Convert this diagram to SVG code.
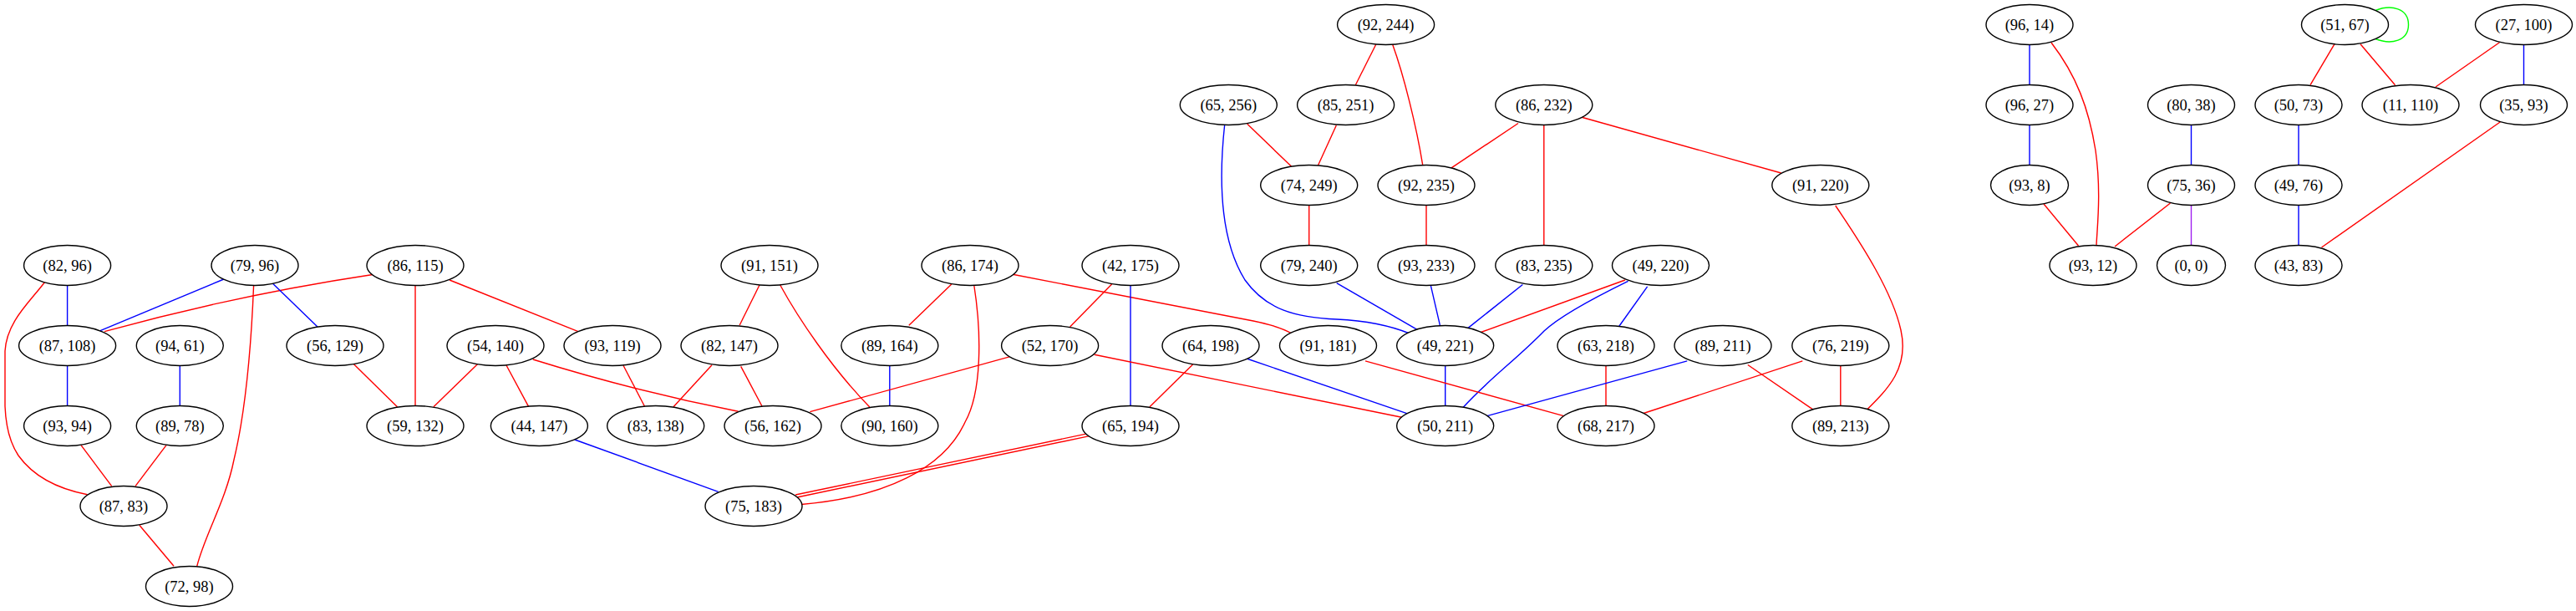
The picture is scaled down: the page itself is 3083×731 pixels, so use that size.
<svg xmlns="http://www.w3.org/2000/svg" width="3083" height="731" viewBox="0 0 3083 731">
<style>
.n ellipse{fill:#fff;stroke:#000;stroke-width:1.4}
.n text{font-family:"Liberation Serif","Times New Roman",serif;font-size:18.5px;text-anchor:middle;fill:#000}
.e path{fill:none;stroke-width:1.4}
.r{stroke:#ff0000}.b{stroke:#0000ff}.g{stroke:#00ff00}.p{stroke:#a020f0}
</style>
<rect width="3083" height="731" fill="#fff"/>
<g id="edges" class="e">
<path class="b" d="M80.6,341.5 L80.6,389.5"/>
<path class="r" d="M53.6,337.5 C35,362 8,385 6,420 L6,486 C7,512 12,530 22,545 C40,570 70,585 104.6,591.7"/>
<path class="b" d="M267.9,334 L120,395.7"/>
<path class="r" d="M446,328.5 Q283,353 125,396.7"/>
<path class="b" d="M326.5,339.3 L380,391"/>
<path class="r" d="M303.6,341.5 C300,430 292,500 280,550 C270,600 245,640 235.7,677.5"/>
<path class="r" d="M497,341.5 L497,485.5"/>
<path class="r" d="M538,335 L692,396.7"/>
<path class="b" d="M80.6,437.5 L80.6,485.5"/>
<path class="b" d="M215.3,437.5 L215.3,485.5"/>
<path class="r" d="M423.5,435.7 L475.5,486.7"/>
<path class="r" d="M571.4,435.7 L518.9,486.7"/>
<path class="r" d="M606,437 L632.7,486.7"/>
<path class="r" d="M637.8,430 Q760,468 883.7,492.3"/>
<path class="r" d="M746,437.3 L771.4,486"/>
<path class="r" d="M199,532.7 L162,581.7"/>
<path class="r" d="M97,532.7 L133.7,581.7"/>
<path class="r" d="M166.8,628.3 L208,677.3"/>
<path class="b" d="M687.8,526 L859.7,588.3"/>
<path class="r" d="M909,341 L885.2,389"/>
<path class="r" d="M933.7,341 C955,380 995,440 1040.8,487"/>
<path class="r" d="M852,436.7 L806,486.7"/>
<path class="r" d="M886.7,438.3 L912,486"/>
<path class="r" d="M1138.8,340 L1087.8,389.3"/>
<path class="r" d="M1165.8,341.5 C1175,400 1175,470 1155,505 C1130,560 1060,595 959,603.5"/>
<path class="r" d="M1212,328.3 L1500,384 Q1530,390 1546,399"/>
<path class="r" d="M1330.6,340 L1280.6,391"/>
<path class="b" d="M1353,341.5 L1353,485.5"/>
<path class="b" d="M1064.8,437.5 L1064.8,485.5"/>
<path class="r" d="M1209,426.7 L969.4,492.7"/>
<path class="r" d="M1309.7,424.3 L1680,499.8"/>
<path class="r" d="M1427.6,436 L1376,486.7"/>
<path class="b" d="M1492,429 L1686.7,495.6"/>
<path class="r" d="M1303.3,518.4 L952,592"/>
<path class="r" d="M1303.9,521.6 L952.6,595.2"/>
<path class="b" d="M1465.7,149 C1458,220 1462,290 1490,335 C1515,370 1550,380 1600,382 C1640,384 1665,390 1687,399"/>
<path class="r" d="M1492.7,148.3 L1545.7,199.3"/>
<path class="r" d="M1599.3,150 L1577.3,198.3"/>
<path class="r" d="M1646.7,53.3 L1622.3,101.7"/>
<path class="r" d="M1666.7,53.3 C1680,90 1695,150 1702.7,197.3"/>
<path class="r" d="M1817,147.5 L1736.3,201.4"/>
<path class="r" d="M1847.8,149.5 L1847.8,293.5"/>
<path class="r" d="M1893.9,140.5 L2131.7,207"/>
<path class="r" d="M1566.7,245.5 L1566.7,293.5"/>
<path class="r" d="M1707,245.5 L1707,293.5"/>
<path class="b" d="M1599.7,338.6 L1697,394.8"/>
<path class="b" d="M1712.3,341.3 L1723.5,389.7"/>
<path class="b" d="M1822.3,340.5 L1755.8,393.4"/>
<path class="r" d="M1945,335 L1771,398"/>
<path class="b" d="M1948.6,336.3 C1900,360 1865,380 1848,396 C1815,430 1780,455 1750.6,488"/>
<path class="b" d="M1971.6,342.9 L1937.3,391"/>
<path class="b" d="M1729.7,437.5 L1729.7,485.5"/>
<path class="r" d="M1634,431.9 L1876,498.8"/>
<path class="r" d="M1922,437.5 L1922,485.5"/>
<path class="b" d="M2019.2,431.9 L1778.8,497.9"/>
<path class="r" d="M2091.8,436.5 L2172.6,491.8"/>
<path class="r" d="M2157.3,431.9 L1965.5,495"/>
<path class="r" d="M2202.8,437.5 L2202.8,485.5"/>
<path class="r" d="M2196.7,246 C2230,295 2265,350 2275,395 C2285,440 2260,465 2232.5,492"/>
<path class="b" d="M2429,53.5 L2429,101.5"/>
<path class="r" d="M2455,51 C2485,90 2500,130 2508,180 C2515,230 2510,270 2509,293.5"/>
<path class="b" d="M2429,149.5 L2429,197.5"/>
<path class="r" d="M2446,244 L2487.5,294"/>
<path class="b" d="M2622.5,149.5 L2622.5,197.5"/>
<path class="r" d="M2597.5,243 L2531,295"/>
<path class="p" d="M2622.5,245.5 L2622.5,293.5"/>
<path class="r" d="M2794,52.7 L2765,101.7"/>
<path class="r" d="M2825,52.7 L2866.5,101.7"/>
<path class="r" d="M2991.5,50.7 L2915,104"/>
<path class="b" d="M3020.5,53.5 L3020.5,101.5"/>
<path class="b" d="M2751,149.5 L2751,197.5"/>
<path class="b" d="M2751,245.5 L2751,293.5"/>
<path class="r" d="M2992.5,145.7 L2778.5,296"/>
<path class="g" d="M2843,12.5 C2862,5 2882.5,10 2882.5,29.5 C2882.5,49 2862,54 2843,46.5"/>
</g>
<g id="n_82_96" class="n"><ellipse cx="80.6" cy="317.5" rx="52" ry="24"/><text x="80.6" y="323.5">(82, 96)</text></g>
<g id="n_79_96" class="n"><ellipse cx="305" cy="317.5" rx="52" ry="24"/><text x="305" y="323.5">(79, 96)</text></g>
<g id="n_86_115" class="n"><ellipse cx="497" cy="317.5" rx="58" ry="24"/><text x="497" y="323.5">(86, 115)</text></g>
<g id="n_91_151" class="n"><ellipse cx="921" cy="317.5" rx="58" ry="24"/><text x="921" y="323.5">(91, 151)</text></g>
<g id="n_86_174" class="n"><ellipse cx="1161" cy="317.5" rx="58" ry="24"/><text x="1161" y="323.5">(86, 174)</text></g>
<g id="n_42_175" class="n"><ellipse cx="1353" cy="317.5" rx="58" ry="24"/><text x="1353" y="323.5">(42, 175)</text></g>
<g id="n_79_240" class="n"><ellipse cx="1566.7" cy="317.5" rx="58" ry="24"/><text x="1566.7" y="323.5">(79, 240)</text></g>
<g id="n_93_233" class="n"><ellipse cx="1707" cy="317.5" rx="58" ry="24"/><text x="1707" y="323.5">(93, 233)</text></g>
<g id="n_83_235" class="n"><ellipse cx="1847.8" cy="317.5" rx="58" ry="24"/><text x="1847.8" y="323.5">(83, 235)</text></g>
<g id="n_49_220" class="n"><ellipse cx="1987.5" cy="317.5" rx="58" ry="24"/><text x="1987.5" y="323.5">(49, 220)</text></g>
<g id="n_93_12" class="n"><ellipse cx="2505" cy="317.5" rx="52" ry="24"/><text x="2505" y="323.5">(93, 12)</text></g>
<g id="n_0_0" class="n"><ellipse cx="2622.5" cy="317.5" rx="41" ry="24"/><text x="2622.5" y="323.5">(0, 0)</text></g>
<g id="n_43_83" class="n"><ellipse cx="2751" cy="317.5" rx="52" ry="24"/><text x="2751" y="323.5">(43, 83)</text></g>
<g id="n_87_108" class="n"><ellipse cx="80.6" cy="413.5" rx="58" ry="24"/><text x="80.6" y="419.5">(87, 108)</text></g>
<g id="n_94_61" class="n"><ellipse cx="215.3" cy="413.5" rx="52" ry="24"/><text x="215.3" y="419.5">(94, 61)</text></g>
<g id="n_56_129" class="n"><ellipse cx="401" cy="413.5" rx="58" ry="24"/><text x="401" y="419.5">(56, 129)</text></g>
<g id="n_54_140" class="n"><ellipse cx="593" cy="413.5" rx="58" ry="24"/><text x="593" y="419.5">(54, 140)</text></g>
<g id="n_93_119" class="n"><ellipse cx="733" cy="413.5" rx="58" ry="24"/><text x="733" y="419.5">(93, 119)</text></g>
<g id="n_82_147" class="n"><ellipse cx="873" cy="413.5" rx="58" ry="24"/><text x="873" y="419.5">(82, 147)</text></g>
<g id="n_89_164" class="n"><ellipse cx="1064.8" cy="413.5" rx="58" ry="24"/><text x="1064.8" y="419.5">(89, 164)</text></g>
<g id="n_52_170" class="n"><ellipse cx="1256.6" cy="413.5" rx="58" ry="24"/><text x="1256.6" y="419.5">(52, 170)</text></g>
<g id="n_64_198" class="n"><ellipse cx="1449" cy="413.5" rx="58" ry="24"/><text x="1449" y="419.5">(64, 198)</text></g>
<g id="n_91_181" class="n"><ellipse cx="1589.5" cy="413.5" rx="58" ry="24"/><text x="1589.5" y="419.5">(91, 181)</text></g>
<g id="n_49_221" class="n"><ellipse cx="1729.7" cy="413.5" rx="58" ry="24"/><text x="1729.7" y="419.5">(49, 221)</text></g>
<g id="n_63_218" class="n"><ellipse cx="1922" cy="413.5" rx="58" ry="24"/><text x="1922" y="419.5">(63, 218)</text></g>
<g id="n_89_211" class="n"><ellipse cx="2062" cy="413.5" rx="58" ry="24"/><text x="2062" y="419.5">(89, 211)</text></g>
<g id="n_76_219" class="n"><ellipse cx="2202.8" cy="413.5" rx="58" ry="24"/><text x="2202.8" y="419.5">(76, 219)</text></g>
<g id="n_93_94" class="n"><ellipse cx="80.6" cy="509.5" rx="52" ry="24"/><text x="80.6" y="515.5">(93, 94)</text></g>
<g id="n_89_78" class="n"><ellipse cx="215.3" cy="509.5" rx="52" ry="24"/><text x="215.3" y="515.5">(89, 78)</text></g>
<g id="n_59_132" class="n"><ellipse cx="497" cy="509.5" rx="58" ry="24"/><text x="497" y="515.5">(59, 132)</text></g>
<g id="n_44_147" class="n"><ellipse cx="645.4" cy="509.5" rx="58" ry="24"/><text x="645.4" y="515.5">(44, 147)</text></g>
<g id="n_83_138" class="n"><ellipse cx="784.7" cy="509.5" rx="58" ry="24"/><text x="784.7" y="515.5">(83, 138)</text></g>
<g id="n_56_162" class="n"><ellipse cx="925" cy="509.5" rx="58" ry="24"/><text x="925" y="515.5">(56, 162)</text></g>
<g id="n_90_160" class="n"><ellipse cx="1064.8" cy="509.5" rx="58" ry="24"/><text x="1064.8" y="515.5">(90, 160)</text></g>
<g id="n_65_194" class="n"><ellipse cx="1353" cy="509.5" rx="58" ry="24"/><text x="1353" y="515.5">(65, 194)</text></g>
<g id="n_50_211" class="n"><ellipse cx="1729.7" cy="509.5" rx="58" ry="24"/><text x="1729.7" y="515.5">(50, 211)</text></g>
<g id="n_68_217" class="n"><ellipse cx="1922" cy="509.5" rx="58" ry="24"/><text x="1922" y="515.5">(68, 217)</text></g>
<g id="n_89_213" class="n"><ellipse cx="2202.8" cy="509.5" rx="58" ry="24"/><text x="2202.8" y="515.5">(89, 213)</text></g>
<g id="n_87_83" class="n"><ellipse cx="148" cy="605.5" rx="52" ry="24"/><text x="148" y="611.5">(87, 83)</text></g>
<g id="n_75_183" class="n"><ellipse cx="902" cy="605.5" rx="58" ry="24"/><text x="902" y="611.5">(75, 183)</text></g>
<g id="n_72_98" class="n"><ellipse cx="226.5" cy="701.5" rx="52" ry="24"/><text x="226.5" y="707.5">(72, 98)</text></g>
<g id="n_92_244" class="n"><ellipse cx="1658.6" cy="29.5" rx="58" ry="24"/><text x="1658.6" y="35.5">(92, 244)</text></g>
<g id="n_96_14" class="n"><ellipse cx="2429" cy="29.5" rx="52" ry="24"/><text x="2429" y="35.5">(96, 14)</text></g>
<g id="n_51_67" class="n"><ellipse cx="2806.5" cy="29.5" rx="52" ry="24"/><text x="2806.5" y="35.5">(51, 67)</text></g>
<g id="n_27_100" class="n"><ellipse cx="3020.5" cy="29.5" rx="58" ry="24"/><text x="3020.5" y="35.5">(27, 100)</text></g>
<g id="n_65_256" class="n"><ellipse cx="1470.3" cy="125.5" rx="58" ry="24"/><text x="1470.3" y="131.5">(65, 256)</text></g>
<g id="n_85_251" class="n"><ellipse cx="1610.6" cy="125.5" rx="58" ry="24"/><text x="1610.6" y="131.5">(85, 251)</text></g>
<g id="n_86_232" class="n"><ellipse cx="1847.8" cy="125.5" rx="58" ry="24"/><text x="1847.8" y="131.5">(86, 232)</text></g>
<g id="n_96_27" class="n"><ellipse cx="2429" cy="125.5" rx="52" ry="24"/><text x="2429" y="131.5">(96, 27)</text></g>
<g id="n_80_38" class="n"><ellipse cx="2622.5" cy="125.5" rx="52" ry="24"/><text x="2622.5" y="131.5">(80, 38)</text></g>
<g id="n_50_73" class="n"><ellipse cx="2751" cy="125.5" rx="52" ry="24"/><text x="2751" y="131.5">(50, 73)</text></g>
<g id="n_11_110" class="n"><ellipse cx="2885" cy="125.5" rx="58" ry="24"/><text x="2885" y="131.5">(11, 110)</text></g>
<g id="n_35_93" class="n"><ellipse cx="3020.5" cy="125.5" rx="52" ry="24"/><text x="3020.5" y="131.5">(35, 93)</text></g>
<g id="n_74_249" class="n"><ellipse cx="1566.7" cy="221.5" rx="58" ry="24"/><text x="1566.7" y="227.5">(74, 249)</text></g>
<g id="n_92_235" class="n"><ellipse cx="1707" cy="221.5" rx="58" ry="24"/><text x="1707" y="227.5">(92, 235)</text></g>
<g id="n_91_220" class="n"><ellipse cx="2178.8" cy="221.5" rx="58" ry="24"/><text x="2178.8" y="227.5">(91, 220)</text></g>
<g id="n_93_8" class="n"><ellipse cx="2429" cy="221.5" rx="46.5" ry="24"/><text x="2429" y="227.5">(93, 8)</text></g>
<g id="n_75_36" class="n"><ellipse cx="2622.5" cy="221.5" rx="52" ry="24"/><text x="2622.5" y="227.5">(75, 36)</text></g>
<g id="n_49_76" class="n"><ellipse cx="2751" cy="221.5" rx="52" ry="24"/><text x="2751" y="227.5">(49, 76)</text></g>
</svg>
